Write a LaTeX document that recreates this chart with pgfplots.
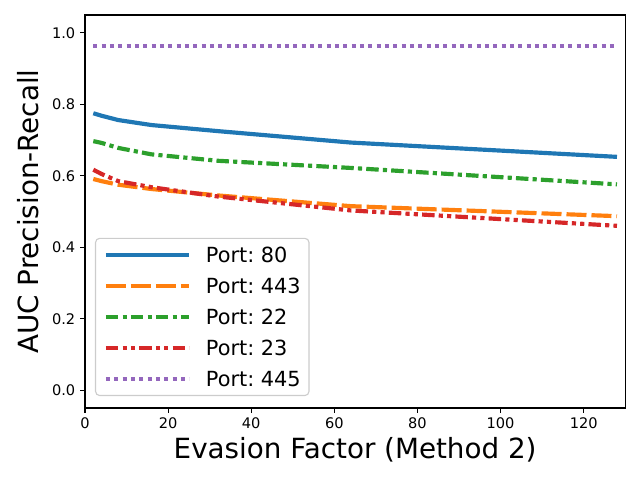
\documentclass[border=0pt]{standalone}
\usepackage{pgfplots}
\pgfplotsset{compat=1.18}
\usepackage{fontspec}
\setmainfont{DejaVu Sans}
\frenchspacing
\definecolor{c1}{HTML}{1F77B4}
\definecolor{c2}{HTML}{FF7F0E}
\definecolor{c3}{HTML}{2CA02C}
\definecolor{c4}{HTML}{D62728}
\definecolor{c5}{HTML}{9467BD}
\begin{document}
\begin{tikzpicture}
\path[use as bounding box] (-61.2pt,-51.8pt) rectangle (399.6pt,293.8pt);
\begin{axis}[
  scale only axis, width=389pt, height=283pt,
  xmin=0, xmax=130, ymin=-0.05, ymax=1.05,
  xtick={0,20,40,60,80,100,120},
  ytick={0,0.2,0.4,0.6,0.8,1.0},
  yticklabel style={/pgf/number format/.cd, fixed, fixed zerofill, precision=1},
  /pgf/number format/assume math mode=true,
  tick label style={font=\fontsize{10.5}{12}\selectfont},
  tick align=outside, tick pos=left, major tick length=3.5pt,
  every tick/.style={black, line width=0.8pt},
  axis line style={line width=0.8pt},
  xlabel={Evasion Factor (Method 2)},
  ylabel={AUC Precision-Recall},
  label style={font=\fontsize{20}{24}\selectfont},
  xlabel style={at={(axis description cs:0.5,0)}, anchor=base, yshift=-36pt},
  ylabel style={at={(axis description cs:-0.1054,0.5)}, anchor=center},
  legend style={at={(0.0185,0.0304)}, anchor=south west,
    font=\fontsize{15}{18}\selectfont, draw=black!20, line width=0.8pt,
    rounded corners=3pt, fill=white, fill opacity=0.8, text opacity=1,
    inner xsep=6pt, inner ysep=5.5pt, row sep=9.3pt, column sep=10.5pt,
    nodes={inner sep=0pt, text height=12pt, text depth=1pt}},
  legend cell align=left,
  legend image code/.code={\draw[#1] (0pt,0pt) -- (60pt,0pt);},
  every axis plot/.append style={line width=3pt},
]
\addplot[c1] coordinates {(2,0.775) (4,0.768) (8,0.756) (16,0.742) (32,0.725) (64,0.693) (128,0.653)};
\addlegendentry{Port: 80}
\addplot[c2, dash pattern=on 14.4pt off 3.6pt] coordinates {(2,0.591) (4,0.585) (8,0.575) (16,0.563) (32,0.545) (64,0.515) (128,0.487)};
\addlegendentry{Port: 443}
\addplot[c3, dash pattern=on 9pt off 3pt on 3pt off 3pt] coordinates {(2,0.697) (4,0.692) (8,0.678) (16,0.660) (32,0.642) (64,0.622) (128,0.576)};
\addlegendentry{Port: 22}
\addplot[c4, dash pattern=on 9pt off 3pt on 3pt off 3pt on 3pt off 3pt] coordinates {(2,0.617) (4,0.605) (8,0.585) (16,0.568) (32,0.542) (64,0.503) (128,0.460)};
\addlegendentry{Port: 23}
\addplot[c5, dash pattern=on 3pt off 3pt] coordinates {(2,0.963) (4,0.963) (8,0.963) (16,0.963) (32,0.963) (64,0.963) (128,0.963)};
\addlegendentry{Port: 445}
\end{axis}
\end{tikzpicture}
\end{document}
